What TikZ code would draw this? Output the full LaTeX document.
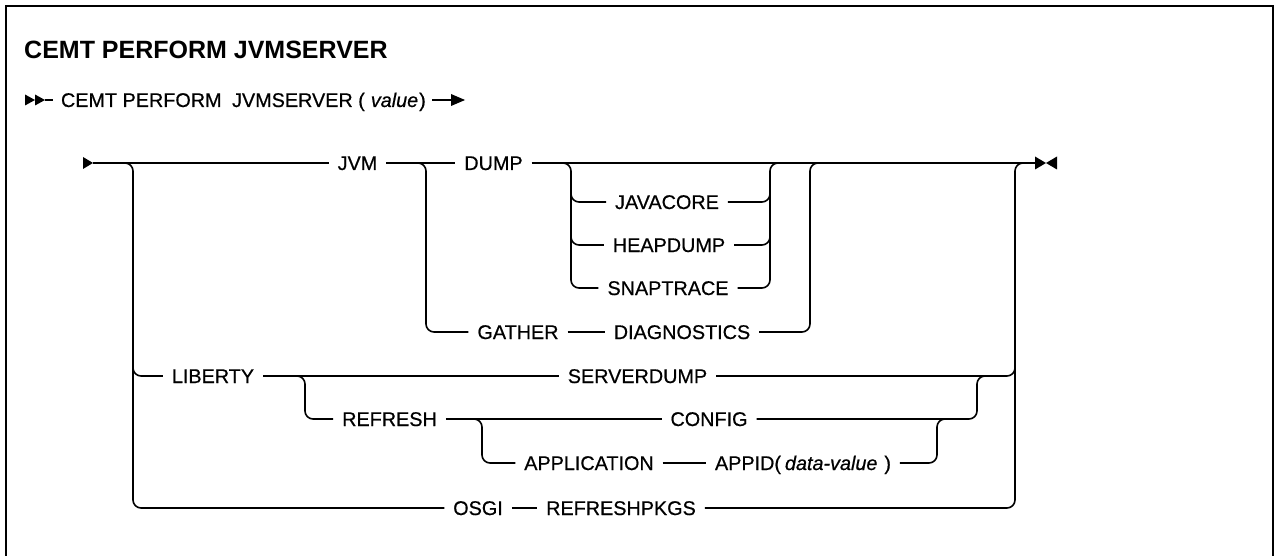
\documentclass[tikz,border=0pt]{standalone}
\usepackage{fontspec}
\setmainfont{Liberation Sans}
\newfontfamily\kwfont{Liberation Sans}[FakeBold=0.6]
\usetikzlibrary{calc}
\begin{document}
\begin{tikzpicture}[x=1pt,y=-1pt,
  ln/.style={line width=1.6pt},
  rr/.style={line width=1.6pt, rounded corners=8pt},
  kw/.style={font=\kwfont\fontsize{19.8}{23}\selectfont, inner xsep=9pt, inner ysep=0pt,
             outer sep=0pt, text height=14pt, text depth=0pt},
  tipfill/.style={fill=black, draw=none}]
\useasboundingbox (0,0) rectangle (1274,556);
% frame (open at the bottom)
\draw[line width=2pt] (6,556) -- (6,6) -- (1272.5,6) -- (1272.5,556);

% title and first syntax line
\node[anchor=base west, font=\bfseries\fontsize{25}{30}\selectfont, inner sep=0pt] (title) at (24,59) {CEMT PERFORM JVMSERVER};
\node[kw, inner xsep=0pt, anchor=west] (l2) at (61,100) {CEMT PERFORM\hspace{5pt} JVMSERVER (\hspace{6pt}\textit{value}\hspace{1pt})};
\coordinate (m2) at (45,100);
\coordinate (a2s) at (432,100);
\coordinate (a2) at (452,100);
\fill[tipfill] (25,94.5) -- (35,100) -- (25,105.5) -- cycle;
\fill[tipfill] (35,94.5) -- (45,100) -- (35,105.5) -- cycle;
\draw[ln] (m2) -- ($(l2.west)+(-8,0)$);
\draw[ln] (a2s) -- (a2);
\fill[tipfill] (451,94) -- (465,100) -- (451,106) -- cycle;

% keywords
\node[kw] (jvm) at (357.5,163) {JVM};
\node[kw] (dump) at (493.5,163) {DUMP};
\node[kw] (jc) at (667,202) {JAVACORE};
\node[kw] (hd) at (669,245) {HEAPDUMP};
\node[kw] (st) at (668,288) {SNAPTRACE};
\node[kw] (ga) at (518,332) {GATHER};
\node[kw] (di) at (682,332) {DIAGNOSTICS};
\node[kw] (li) at (213,376) {LIBERTY};
\node[kw] (sd) at (637.5,376) {SERVERDUMP};
\node[kw] (re) at (389.5,419) {REFRESH};
\node[kw] (co) at (709,419) {CONFIG};
\node[kw] (ap) at (589,463) {APPLICATION};
\node[kw] (id) at (803,463) {APPID(\hspace{0.2em}\textit{data-value}\hspace{0.35em})};
\node[kw] (os) at (478,508) {OSGI};
\node[kw] (rp) at (621,508) {REFRESHPKGS};

% junction columns
\coordinate (s0) at (93,163);
\coordinate (e0) at (1035,163);
\coordinate (cL) at (133,163);
\coordinate (cJ) at (426,163);
\coordinate (cSL) at (571,163);
\coordinate (cSR) at (770,163);
\coordinate (cD) at (810,163);
\coordinate (cR) at (1015,163);
\coordinate (cLB) at (305,376);
\coordinate (cRB) at (977,376);
\coordinate (cRF) at (482,419);
\coordinate (cAP) at (937,419);

% start / end markers
\fill[tipfill] (83,157) -- (93,163) -- (83,169) -- cycle;
\fill[tipfill] (1035,156.5) -- (1046,163) -- (1035,169.5) -- cycle;
\fill[tipfill] (1057,156.5) -- (1046,163) -- (1057,169.5) -- cycle;

% main line
\draw[ln] (s0) -- (jvm.west);
\draw[ln] (jvm.east) -- (dump.west);
\draw[ln] (dump.east) -- (e0);

% outer left bracket
\draw[rr] ($(cL)+(-12,0)$) -- (cL) -- (cL |- os) -- (os.west);
\draw[rr] ($(cL |- li)+(0,-30)$) -- (cL |- li) -- (li.west);

% JVM: DUMP / GATHER
\draw[rr] ($(cJ)+(-12,0)$) -- (cJ) -- (cJ |- ga) -- (ga.west);
\draw[ln] (ga.east) -- (di.west);
\draw[rr] (di.east) -- (cD |- di) -- (cD) -- ($(cD)+(12,0)$);

% optional DUMP stack
\draw[rr] ($(cSL)+(-12,0)$) -- (cSL) -- (cSL |- st) -- (st.west);
\draw[rr] ($(cSL |- jc)+(0,-25)$) -- (cSL |- jc) -- (jc.west);
\draw[rr] ($(cSL |- hd)+(0,-25)$) -- (cSL |- hd) -- (hd.west);
\draw[rr] (st.east) -- (cSR |- st) -- (cSR) -- ($(cSR)+(12,0)$);
\draw[rr] (jc.east) -- (cSR |- jc) -- ($(cSR |- jc)+(0,-25)$);
\draw[rr] (hd.east) -- (cSR |- hd) -- ($(cSR |- hd)+(0,-25)$);

% outer right bracket
\draw[rr] (rp.east) -- (cR |- rp) -- (cR) -- (e0);
\draw[rr] (sd.east) -- (cR |- sd) -- ($(cR |- sd)+(0,-30)$);

% LIBERTY branch
\draw[ln] (li.east) -- (sd.west);
\draw[rr] ($(cLB)+(-12,0)$) -- (cLB) -- (cLB |- re) -- (re.west);
\draw[ln] (re.east) -- (co.west);
\draw[rr] ($(cRF)+(-12,0)$) -- (cRF) -- (cRF |- ap) -- (ap.west);
\draw[ln] (ap.east) -- (id.west);
\draw[rr] (id.east) -- (cAP |- id) -- (cAP) -- ($(cAP)+(12,0)$);
\draw[rr] (co.east) -- (cRB |- co) -- (cRB) -- ($(cRB)+(12,0)$);

% OSGI branch
\draw[ln] (os.east) -- (rp.west);
\end{tikzpicture}
\end{document}
